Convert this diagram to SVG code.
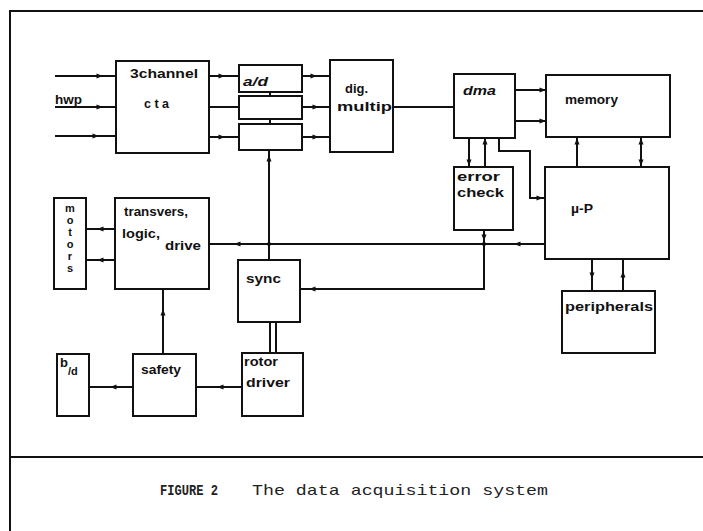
<svg xmlns="http://www.w3.org/2000/svg" xmlns:xlink="http://www.w3.org/1999/xlink" width="703" height="531" viewBox="0 0 703 531">
<style>
.box{fill:none;stroke:#111;stroke-width:2}
.ln{fill:none;stroke:#111;stroke-width:2}
.t{font-family:"Liberation Sans",Arial,sans-serif;font-weight:bold;font-size:13px;fill:#111}
.m{font-family:"Liberation Sans",Arial,sans-serif;font-weight:bold;font-size:11px;fill:#111}
.cap{font-family:"Liberation Mono","Courier New",monospace;font-size:15px;fill:#222}
</style>
<defs>
<path id="ah" d="M-3.5,-2.5 L3,0 L-3.5,2.5 Z" fill="#111"/>
</defs>
<rect width="703" height="531" fill="#fff"/>
<g id="frame">
<path class="ln" d="M10,531 V11 H703"/>
<path class="ln" d="M10,457 H703"/>
</g>
<g id="connectors">
<path class="ln" d="M55,76 H116 M55,107 H116 M55,136 H116"/>
<path class="ln" d="M209,76 H239 M209,107 H239 M209,137 H239"/>
<path class="ln" d="M302,76 H330 M302,107 H330 M302,137 H330"/>
<path class="ln" d="M270,92 V96 M270,119 V124"/>
<path class="ln" d="M269,150 V260"/>
<path class="ln" d="M393,107 H454"/>
<path class="ln" d="M515,90 H546 M515,121 H546"/>
<path class="ln" d="M469,138 V167 M485,138 V167"/>
<path class="ln" d="M499,138 V151 H530 V198 H545"/>
<path class="ln" d="M577,137 V167 M641,137 V167"/>
<path class="ln" d="M592,259 V291 M623,259 V291"/>
<path class="ln" d="M545,244 H209"/>
<path class="ln" d="M484,230 V289 H300"/>
<path class="ln" d="M115,229 H86 M115,260 H86"/>
<path class="ln" d="M163,289 V354"/>
<path class="ln" d="M89,387 H133"/>
<path class="ln" d="M196,387 H242"/>
<path class="ln" d="M270,322 V353 M276,322 V353"/>
<use xlink:href="#ah" transform="translate(100,76)"/>
<use xlink:href="#ah" transform="translate(100,107)"/>
<use xlink:href="#ah" transform="translate(96,136)"/>
<use xlink:href="#ah" transform="translate(222,76)"/>
<use xlink:href="#ah" transform="translate(222,137)"/>
<use xlink:href="#ah" transform="translate(314,76)"/>
<use xlink:href="#ah" transform="translate(316,107)"/>
<use xlink:href="#ah" transform="translate(316,137)"/>
<use xlink:href="#ah" transform="translate(269,158) rotate(-90)"/>
<use xlink:href="#ah" transform="translate(543,90)"/>
<use xlink:href="#ah" transform="translate(543,121)"/>
<use xlink:href="#ah" transform="translate(469,163) rotate(90)"/>
<use xlink:href="#ah" transform="translate(485,141) rotate(-90)"/>
<use xlink:href="#ah" transform="translate(540,198)"/>
<use xlink:href="#ah" transform="translate(577,141) rotate(-90)"/>
<use xlink:href="#ah" transform="translate(641,141) rotate(-90)"/>
<use xlink:href="#ah" transform="translate(641,163) rotate(90)"/>
<use xlink:href="#ah" transform="translate(592,276) rotate(90)"/>
<use xlink:href="#ah" transform="translate(623,274) rotate(-90)"/>
<use xlink:href="#ah" transform="translate(517,244) rotate(180)"/>
<use xlink:href="#ah" transform="translate(237,244) rotate(180)"/>
<use xlink:href="#ah" transform="translate(484,238) rotate(90)"/>
<use xlink:href="#ah" transform="translate(312,289) rotate(180)"/>
<use xlink:href="#ah" transform="translate(100,229) rotate(180)"/>
<use xlink:href="#ah" transform="translate(100,260) rotate(180)"/>
<use xlink:href="#ah" transform="translate(163,312) rotate(-90)"/>
<use xlink:href="#ah" transform="translate(113,387) rotate(180)"/>
<use xlink:href="#ah" transform="translate(220,387) rotate(180)"/>
<circle cx="269" cy="244" r="2" fill="#111"/>
<circle cx="484" cy="244" r="2" fill="#111"/>
</g>
<g id="cta">
<rect class="box" x="116" y="61" width="93" height="92"/>
<text class="t" x="130" y="78" textLength="68" lengthAdjust="spacingAndGlyphs">3channel</text>
<text class="t" x="144" y="108" textLength="25" lengthAdjust="spacingAndGlyphs">c t a</text>
</g>
<g id="hwp"><text class="t" x="55" y="104" textLength="27" lengthAdjust="spacingAndGlyphs">hwp</text></g>
<g id="ad1"><rect class="box" x="239" y="65" width="63" height="27"/><text class="t" x="243" y="86" font-style="italic" textLength="25" lengthAdjust="spacingAndGlyphs">a/d</text></g>
<g id="ad2"><rect class="box" x="239" y="96" width="63" height="23"/></g>
<g id="ad3"><rect class="box" x="239" y="124" width="63" height="26"/></g>
<g id="dig">
<rect class="box" x="330" y="60" width="63" height="92"/>
<text class="t" x="345" y="93" textLength="23" lengthAdjust="spacingAndGlyphs">dig.</text>
<text class="t" x="337" y="111" textLength="55" lengthAdjust="spacingAndGlyphs">multip</text>
</g>
<g id="dma"><rect class="box" x="454" y="74" width="61" height="64"/><text class="t" x="463" y="95" font-style="italic" textLength="33" lengthAdjust="spacingAndGlyphs">dma</text></g>
<g id="memory"><rect class="box" x="546" y="75" width="124" height="62"/><text class="t" x="565" y="104" textLength="53" lengthAdjust="spacingAndGlyphs">memory</text></g>
<g id="error"><rect class="box" x="454" y="167" width="59" height="63"/><text class="t" x="457" y="181" textLength="43" lengthAdjust="spacingAndGlyphs">error</text><text class="t" x="457" y="197" textLength="47" lengthAdjust="spacingAndGlyphs">check</text></g>
<g id="up"><rect class="box" x="545" y="167" width="124" height="92"/><text class="t" x="571" y="213" textLength="22" lengthAdjust="spacingAndGlyphs">µ-P</text></g>
<g id="peripherals"><rect class="box" x="562" y="291" width="93" height="62"/><text class="t" x="565" y="311" textLength="88" lengthAdjust="spacingAndGlyphs">peripherals</text></g>
<g id="motors">
<rect class="box" x="54" y="198" width="32" height="91"/>
<text class="m" x="70" y="212" text-anchor="middle">m</text>
<text class="m" x="70" y="224" text-anchor="middle">o</text>
<text class="m" x="70" y="236" text-anchor="middle">t</text>
<text class="m" x="70" y="248" text-anchor="middle">o</text>
<text class="m" x="70" y="260" text-anchor="middle">r</text>
<text class="m" x="70" y="272" text-anchor="middle">s</text>
</g>
<g id="transvers">
<rect class="box" x="115" y="198" width="94" height="91"/>
<text class="t" x="124" y="216" textLength="64" lengthAdjust="spacingAndGlyphs">transvers,</text>
<text class="t" x="122" y="238" textLength="38" lengthAdjust="spacingAndGlyphs">logic,</text>
<text class="t" x="165" y="250" textLength="36" lengthAdjust="spacingAndGlyphs">drive</text>
</g>
<g id="sync"><rect class="box" x="238" y="260" width="62" height="62"/><text class="t" x="246" y="283" textLength="35" lengthAdjust="spacingAndGlyphs">sync</text></g>
<g id="bd"><rect class="box" x="57" y="354" width="32" height="62"/><text class="t" x="60" y="367">b<tspan dy="8" font-size="11">/d</tspan></text></g>
<g id="safety"><rect class="box" x="133" y="354" width="63" height="62"/><text class="t" x="141" y="374" textLength="40" lengthAdjust="spacingAndGlyphs">safety</text></g>
<g id="rotor"><rect class="box" x="242" y="353" width="61" height="63"/><text class="t" x="244" y="366" textLength="34" lengthAdjust="spacingAndGlyphs">rotor</text><text class="t" x="246" y="387" textLength="44" lengthAdjust="spacingAndGlyphs">driver</text></g>
<g id="caption">
<text class="cap" x="160" y="495" font-weight="bold" textLength="58" lengthAdjust="spacingAndGlyphs">FIGURE 2</text>
<text class="cap" x="252" y="495" textLength="296" lengthAdjust="spacingAndGlyphs">The data acquisition system</text>
</g>
</svg>
